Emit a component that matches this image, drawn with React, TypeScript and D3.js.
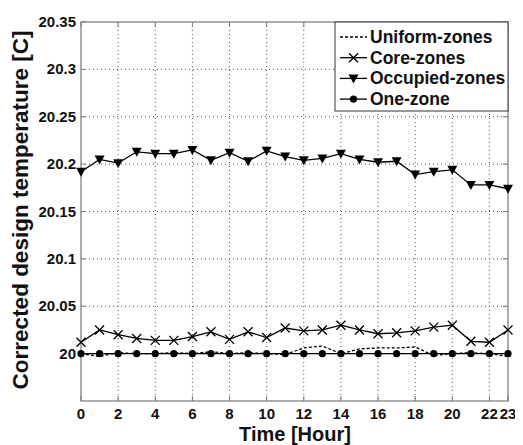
import React from "react";
import * as d3 from "d3";

const hours = d3.range(0, 24);
const uniformZones = [20.0, 19.997, 20.001, 20.0, 20.0, 20.001, 20.0, 20.002, 20.0, 20.001, 20.0, 19.999, 20.006, 20.008, 20.0, 20.005, 20.006, 20.006, 20.007, 19.998, 20.0, 20.001, 20.0, 19.997];
const coreZones = [20.012, 20.025, 20.02, 20.016, 20.014, 20.014, 20.018, 20.023, 20.015, 20.023, 20.017, 20.027, 20.024, 20.025, 20.03, 20.025, 20.021, 20.022, 20.024, 20.028, 20.03, 20.013, 20.012, 20.025];
const occupiedZones = [20.192, 20.205, 20.201, 20.213, 20.211, 20.211, 20.215, 20.204, 20.212, 20.203, 20.214, 20.208, 20.204, 20.206, 20.211, 20.205, 20.202, 20.203, 20.189, 20.192, 20.194, 20.178, 20.178, 20.174];
const oneZone = [20, 20, 20, 20, 20, 20, 20, 20, 20, 20, 20, 20, 20, 20, 20, 20, 20, 20, 20, 20, 20, 20, 20, 20];
const xTicks = [0, 2, 4, 6, 8, 10, 12, 14, 16, 18, 20, 22, 23];
const yTicks = [20, 20.05, 20.1, 20.15, 20.2, 20.25, 20.3, 20.35];
const legendLabels = ["Uniform-zones", "Core-zones", "Occupied-zones", "One-zone"];

const L = 81, R = 508, T = 22, B = 401;
const FONT = "Arial, 'Liberation Sans', sans-serif";

function Marker({ kind, x, y }: { kind: string; x: number; y: number }) {
  if (kind === "x") {
    const s = 4.5;
    return <path d={`M${x - s},${y - s}L${x + s},${y + s}M${x - s},${y + s}L${x + s},${y - s}`} stroke="#000" strokeWidth={1.3} fill="none" />;
  }
  if (kind === "tri") {
    const s = 5;
    return <path d={`M${x - s},${y - s * 0.8}L${x + s},${y - s * 0.8}L${x},${y + s}Z`} fill="#000" />;
  }
  if (kind === "dot") {
    return <circle cx={x} cy={y} r={3.6} fill="#000" />;
  }
  return null;
}

export default function App() {
  const x = d3.scaleLinear().domain([0, 23]).range([L, R]);
  const y = d3.scaleLinear().domain([19.95, 20.35]).range([B, T]);
  const line = d3.line<number>().x((_, i) => x(hours[i])).y((d) => y(d));

  const series = [
    { data: uniformZones, kind: "none", dash: "3,2" },
    { data: coreZones, kind: "x", dash: undefined },
    { data: occupiedZones, kind: "tri", dash: undefined },
    { data: oneZone, kind: "dot", dash: undefined },
  ];

  const gridX = xTicks.filter((t) => t > 0 && t < 23);
  const gridY = yTicks.filter((t) => t < 20.35);

  return (
    <svg width={515} height={437} style={{ display: "block" }} viewBox="8 8 515 437">
      <rect x={0} y={0} width={523} height={445} fill="#fff" />
      {gridX.map((t) => (
        <line key={"gx" + t} x1={x(t)} x2={x(t)} y1={T} y2={B} stroke="#555" strokeWidth={1} strokeDasharray="1,3" />
      ))}
      {gridY.map((t) => (
        <line key={"gy" + t} x1={L} x2={R} y1={y(t)} y2={y(t)} stroke="#555" strokeWidth={1} strokeDasharray="1,3" />
      ))}
      <rect x={L} y={T} width={R - L} height={B - T} fill="none" stroke="#777" strokeWidth={1.2} />
      {xTicks.map((t) => (
        <g key={"xt" + t}>
          <line x1={x(t)} x2={x(t)} y1={B} y2={B - 5} stroke="#777" />
          <line x1={x(t)} x2={x(t)} y1={T} y2={T + 5} stroke="#777" />
          <text x={x(t)} y={419} textAnchor="middle" fontFamily={FONT} fontWeight="bold" fontSize={15} fill="#111">{t}</text>
        </g>
      ))}
      {yTicks.map((t) => (
        <g key={"yt" + t}>
          <line x1={L} x2={L + 5} y1={y(t)} y2={y(t)} stroke="#777" />
          <line x1={R} x2={R - 5} y1={y(t)} y2={y(t)} stroke="#777" />
          <text x={76} y={y(t) + 5} textAnchor="end" fontFamily={FONT} fontWeight="bold" fontSize={15} fill="#111">{String(t)}</text>
        </g>
      ))}
      {series.map((s, si) => (
        <g key={"s" + si}>
          <path d={line(s.data) || ""} fill="none" stroke="#000" strokeWidth={1.3} strokeDasharray={s.dash} />
          {s.data.map((v, i) => (
            <Marker key={i} kind={s.kind} x={x(hours[i])} y={y(v)} />
          ))}
        </g>
      ))}
      <rect x={335} y={T} width={R - 335} height={89} fill="#fff" stroke="#333" strokeWidth={1} />
      {legendLabels.map((lab, i) => {
        const ly = 37 + i * 20.7;
        const s = series[i];
        return (
          <g key={"lg" + i}>
            <line x1={340} x2={367} y1={ly} y2={ly} stroke="#000" strokeWidth={1.3} strokeDasharray={s.dash} />
            <Marker kind={s.kind} x={353.5} y={ly} />
            <text x={370} y={ly + 6} fontFamily={FONT} fontWeight="bold" fontSize={17.5} fill="#111">{lab}</text>
          </g>
        );
      })}
      <text x={295} y={441} textAnchor="middle" fontFamily={FONT} fontWeight="bold" fontSize={20} fill="#111">Time [Hour]</text>
      <text transform={`translate(28,210) rotate(-90)`} textAnchor="middle" fontFamily={FONT} fontWeight="bold" fontSize={22.5} fill="#111">Corrected design temperature [C]</text>
    </svg>
  );
}
